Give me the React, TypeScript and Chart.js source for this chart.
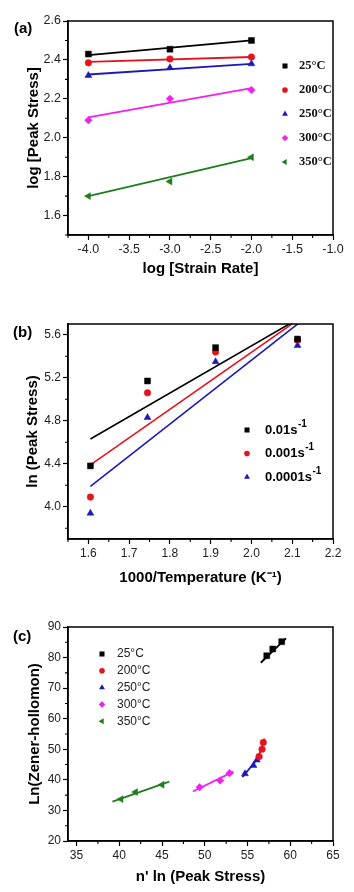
import React, { useEffect, useRef } from 'react';
import { Chart, registerables } from 'chart.js';

Chart.register(...registerables);

const SANS = '"Liberation Sans", Arial, Helvetica, sans-serif';
const SERIF = '"Liberation Serif", "Times New Roman", serif';

const BLACK = '#000000';
const RED = '#e3141e';
const BLUE = '#1a1ab8';
const MAGENTA = '#f020f0';
const GREEN = '#1e7d1e';

// ---------------- Panel (a) ----------------
const tempLabels = ['25°C', '200°C', '250°C', '300°C', '350°C'];
const logStrainRate = [-4, -3, -2];
const fitXA = [-4, -2];
const logPeakA25 = [2.43, 2.455, 2.5];
const logPeakA200 = [2.385, 2.405, 2.415];
const logPeakA250 = [2.32, 2.36, 2.38];
const logPeakA300 = [2.09, 2.2, 2.245];
const logPeakA350 = [1.7, 1.775, 1.9];
const fitA25 = [2.425, 2.5];
const fitA200 = [2.39, 2.415];
const fitA250 = [2.325, 2.38];
const fitA300 = [2.105, 2.255];
const fitA350 = [1.7, 1.895];
const xTicksA = [-4.0, -3.5, -3.0, -2.5, -2.0, -1.5, -1.0];
const yTicksA = [1.6, 1.8, 2.0, 2.2, 2.4, 2.6];

// ---------------- Panel (b) ----------------
const rateLabels = ['0.01s⁻¹', '0.001s⁻¹', '0.0001s⁻¹'];
const invTemp = [1.605, 1.745, 1.912, 2.113];
const fitXB = [1.605, 2.12];
const lnPeakB1 = [4.38, 5.17, 5.48, 5.56];
const lnPeakB2 = [4.09, 5.06, 5.44, 5.55];
const lnPeakB3 = [3.94, 4.83, 5.35, 5.5];
const fitB1 = [4.63, 5.76];
const fitB2 = [4.39, 5.755];
const fitB3 = [4.19, 5.72];
const xTicksB = [1.6, 1.7, 1.8, 1.9, 2.0, 2.1, 2.2];
const yTicksB = [4.0, 4.4, 4.8, 5.2, 5.6];

// ---------------- Panel (c) ----------------
const nLnC25 = [57.25, 57.95, 59.0];
const zC25 = [80.6, 82.8, 85.2];
const fitXC25 = [56.55, 59.5];
const fitYC25 = [78.3, 86.3];
const nLnC200 = [56.35, 56.7, 56.85];
const zC200 = [47.6, 50.0, 52.2];
const fitXC200 = [56.15, 57.0];
const fitYC200 = [46.6, 53.5];
const nLnC250 = [54.7, 55.7, 56.1];
const zC250 = [42.0, 44.7, 46.5];
const fitXC250 = [54.4, 56.3];
const fitYC250 = [40.9, 47.3];
const nLnC300 = [49.4, 51.8, 52.9];
const zC300 = [37.6, 39.8, 42.2];
const fitXC300 = [48.6, 53.35];
const fitYC300 = [36.2, 42.7];
const nLnC350 = [40.2, 41.9, 45.0];
const zC350 = [33.7, 36.0, 38.4];
const fitXC350 = [39.2, 45.85];
const fitYC350 = [32.9, 39.45];
const xTicksC = [35, 40, 45, 50, 55, 60, 65];
const yTicksC = [20, 30, 40, 50, 60, 70, 80, 90];

interface SeriesSpec {
  label: string;
  x: number[];
  y: number[];
  fitX: number[];
  fitY: number[];
  color: string;
  style: string;
  rotation: number;
  radius: number;
}

interface LegendSpec {
  symX: number;
  textX: number;
  y0: number;
  dy: number;
  font: string;
  supFont: string;
  color: string;
}

interface PanelSpec {
  tag: string;
  series: SeriesSpec[];
  xMin: number; xMax: number; yMin: number; yMax: number;
  xTicks: number[]; yTicks: number[]; xDec: number; yDec: number;
  xStep: number; yStep: number;
  xTitle: string; yTitle: string;
  canvasH: number; topPad: number; rightPad: number; yAxisW: number; xAxisH: number;
  xTitlePad: number; yTitlePad: number;
  tickSize: number;
  labelPos: [number, number];
  legend: LegendSpec;
  lineWidth: number;
}

const styleA = [
  { color: BLACK, style: 'rect', rotation: 0, radius: 4.2 },
  { color: RED, style: 'circle', rotation: 0, radius: 3.3 },
  { color: BLUE, style: 'triangle', rotation: 0, radius: 4 },
  { color: MAGENTA, style: 'rectRot', rotation: 0, radius: 3.8 },
  { color: GREEN, style: 'triangle', rotation: -90, radius: 4 },
];

const specA: PanelSpec = {
  tag: '(a)',
  series: [
    { label: tempLabels[0], x: logStrainRate, y: logPeakA25, fitX: fitXA, fitY: fitA25, ...styleA[0] },
    { label: tempLabels[1], x: logStrainRate, y: logPeakA200, fitX: fitXA, fitY: fitA200, ...styleA[1] },
    { label: tempLabels[2], x: logStrainRate, y: logPeakA250, fitX: fitXA, fitY: fitA250, ...styleA[2] },
    { label: tempLabels[3], x: logStrainRate, y: logPeakA300, fitX: fitXA, fitY: fitA300, ...styleA[3] },
    { label: tempLabels[4], x: logStrainRate, y: logPeakA350, fitX: fitXA, fitY: fitA350, ...styleA[4] },
  ],
  xMin: -4.25, xMax: -1.0, yMin: 1.5, yMax: 2.6,
  xTicks: xTicksA, yTicks: yTicksA, xDec: 1, yDec: 1, xStep: 0.5, yStep: 0.2,
  xTitle: 'log [Strain Rate]', yTitle: 'log [Peak Stress]',
  canvasH: 295, topPad: 21, rightPad: 21, yAxisW: 68, xAxisH: 60,
  xTitlePad: 17, yTitlePad: 25, tickSize: 12.5,
  labelPos: [14, 29],
  legend: { symX: 285, textX: 299, y0: 66, dy: 24, font: `bold 12.5px ${SERIF}`, supFont: '', color: '#111' },
  lineWidth: 1.8,
};

const specB: PanelSpec = {
  tag: '(b)',
  series: [
    { label: rateLabels[0], x: invTemp, y: lnPeakB1, fitX: fitXB, fitY: fitB1, ...styleA[0] },
    { label: rateLabels[1], x: invTemp, y: lnPeakB2, fitX: fitXB, fitY: fitB2, ...styleA[1] },
    { label: rateLabels[2], x: invTemp, y: lnPeakB3, fitX: fitXB, fitY: fitB3, ...styleA[2] },
  ],
  xMin: 1.55, xMax: 2.2, yMin: 3.7, yMax: 5.7,
  xTicks: xTicksB, yTicks: yTicksB, xDec: 1, yDec: 1, xStep: 0.1, yStep: 0.4,
  xTitle: '1000/Temperature (K⁻¹)', yTitle: 'ln (Peak Stress)',
  canvasH: 300, topPad: 29, rightPad: 21, yAxisW: 68, xAxisH: 56,
  xTitlePad: 8, yTitlePad: 24, tickSize: 12,
  labelPos: [13, 38],
  legend: { symX: 247, textX: 265, y0: 135, dy: 23.5, font: `bold 13px ${SANS}`, supFont: `bold 10px ${SANS}`, color: '#000' },
  lineWidth: 1.6,
};

const specC: PanelSpec = {
  tag: '(c)',
  series: [
    { label: tempLabels[0], x: nLnC25, y: zC25, fitX: fitXC25, fitY: fitYC25, ...styleA[0] },
    { label: tempLabels[1], x: nLnC200, y: zC200, fitX: fitXC200, fitY: fitYC200, ...styleA[1] },
    { label: tempLabels[2], x: nLnC250, y: zC250, fitX: fitXC250, fitY: fitYC250, ...styleA[2] },
    { label: tempLabels[3], x: nLnC300, y: zC300, fitX: fitXC300, fitY: fitYC300, ...styleA[3] },
    { label: tempLabels[4], x: nLnC350, y: zC350, fitX: fitXC350, fitY: fitYC350, ...styleA[4] },
  ],
  xMin: 34, xMax: 65, yMin: 20, yMax: 90,
  xTicks: xTicksC, yTicks: yTicksC, xDec: 0, yDec: 0, xStep: 5, yStep: 10,
  xTitle: "n' ln (Peak Stress)", yTitle: 'Ln(Zener-hollomon)',
  canvasH: 297, topPad: 32, rightPad: 21, yAxisW: 68, xAxisH: 51,
  xTitlePad: 6, yTitlePad: 26, tickSize: 12,
  labelPos: [13, 42],
  legend: { symX: 102, textX: 117, y0: 59, dy: 16.8, font: `12px ${SANS}`, supFont: '', color: '#222' },
  lineWidth: 1.8,
};

function drawMarker(ctx: CanvasRenderingContext2D, style: string, rotation: number, x: number, y: number, r: number, color: string) {
  ctx.save();
  ctx.fillStyle = color;
  ctx.beginPath();
  if (style === 'rect') {
    const s = r * Math.SQRT1_2;
    ctx.rect(x - s, y - s, 2 * s, 2 * s);
  } else if (style === 'circle') {
    ctx.arc(x, y, r, 0, Math.PI * 2);
  } else if (style === 'rectRot') {
    ctx.moveTo(x, y - r); ctx.lineTo(x + r, y); ctx.lineTo(x, y + r); ctx.lineTo(x - r, y); ctx.closePath();
  } else {
    let a = (rotation * Math.PI) / 180;
    for (let i = 0; i < 3; i++) {
      const px = x + Math.sin(a) * r;
      const py = y - Math.cos(a) * r;
      if (i === 0) ctx.moveTo(px, py); else ctx.lineTo(px, py);
      a += (2 * Math.PI) / 3;
    }
    ctx.closePath();
  }
  ctx.fill();
  ctx.restore();
}

function minorValues(min: number, max: number, step: number): number[] {
  const half = step / 2;
  const out: number[] = [];
  const start = Math.ceil(min / half - 1e-9);
  const end = Math.floor(max / half + 1e-9);
  for (let k = start; k <= end; k++) {
    if (k % 2 !== 0) out.push(k * half);
  }
  return out;
}

function buildConfig(spec: PanelSpec): any {
  const datasets: any[] = [];
  spec.series.forEach((s) => {
    datasets.push({
      label: s.label + ' fit',
      data: s.fitX.map((x, i) => ({ x, y: s.fitY[i] })),
      showLine: true,
      borderColor: s.color,
      backgroundColor: s.color,
      borderWidth: spec.lineWidth,
      pointRadius: 0,
      pointHoverRadius: 0,
      order: 2,
    });
    datasets.push({
      label: s.label,
      data: s.x.map((x, i) => ({ x, y: s.y[i] })),
      showLine: false,
      pointStyle: s.style,
      pointRotation: s.rotation,
      pointRadius: s.radius,
      pointHoverRadius: s.radius,
      backgroundColor: s.color,
      borderColor: s.color,
      pointBorderWidth: 0.5,
      order: 1,
    });
  });

  const axis = (isX: boolean) => ({
    type: 'linear',
    position: isX ? 'bottom' : 'left',
    min: isX ? spec.xMin : spec.yMin,
    max: isX ? spec.xMax : spec.yMax,
    afterBuildTicks: (s: any) => {
      s.ticks = (isX ? spec.xTicks : spec.yTicks).map((v) => ({ value: v }));
    },
    afterFit: (s: any) => {
      if (isX) s.height = spec.xAxisH;
      else s.width = spec.yAxisW;
    },
    border: { display: true, color: '#000', width: 1.5 },
    grid: {
      display: true,
      drawOnChartArea: false,
      drawTicks: true,
      tickLength: 5,
      tickWidth: 1.2,
      tickColor: '#000',
      color: '#000',
    },
    ticks: {
      autoSkip: false,
      maxRotation: 0,
      minRotation: 0,
      padding: 2,
      color: '#222',
      font: { family: SANS, size: spec.tickSize },
      callback: (v: any) => Number(v).toFixed(isX ? spec.xDec : spec.yDec),
    },
    title: {
      display: true,
      text: isX ? spec.xTitle : spec.yTitle,
      color: '#000',
      font: { family: SANS, size: 15, weight: 'bold' },
      padding: isX ? { top: 0, bottom: spec.xTitlePad } : { top: spec.yTitlePad, bottom: 0 },
    },
  });

  const decor = {
    id: 'decor',
    afterDraw(chart: any) {
      const { ctx, chartArea: ca, scales } = chart;
      ctx.save();
      // frame
      ctx.strokeStyle = '#000';
      ctx.lineWidth = 1.5;
      ctx.strokeRect(ca.left, ca.top, ca.right - ca.left, ca.bottom - ca.top);
      // minor ticks
      ctx.lineWidth = 1.1;
      ctx.beginPath();
      minorValues(spec.xMin, spec.xMax, spec.xStep).forEach((v) => {
        const px = scales.x.getPixelForValue(v);
        ctx.moveTo(px, ca.bottom);
        ctx.lineTo(px, ca.bottom + 3);
      });
      minorValues(spec.yMin, spec.yMax, spec.yStep).forEach((v) => {
        const py = scales.y.getPixelForValue(v);
        ctx.moveTo(ca.left, py);
        ctx.lineTo(ca.left - 3, py);
      });
      ctx.stroke();
      // panel tag
      ctx.fillStyle = '#000';
      ctx.font = `bold 15px ${SANS}`;
      ctx.textAlign = 'left';
      ctx.textBaseline = 'middle';
      ctx.fillText(spec.tag, spec.labelPos[0], spec.labelPos[1]);
      // legend
      const lg = spec.legend;
      spec.series.forEach((s, i) => {
        const y = lg.y0 + i * lg.dy;
        drawMarker(ctx, s.style, s.rotation, lg.symX, y, s.radius * 0.85, s.color);
        ctx.fillStyle = lg.color;
        ctx.font = lg.font;
        ctx.textBaseline = 'middle';
        const sup = '⁻¹';
        if (lg.supFont && s.label.endsWith(sup)) {
          const base = s.label.slice(0, -sup.length);
          ctx.fillText(base, lg.textX, y);
          const w = ctx.measureText(base).width;
          ctx.font = lg.supFont;
          ctx.fillText('-1', lg.textX + w + 0.5, y - 6);
        } else {
          ctx.fillText(s.label, lg.textX, y);
        }
      });
      ctx.restore();
    },
  };

  return {
    type: 'scatter',
    data: { datasets },
    options: {
      animation: false,
      responsive: false,
      devicePixelRatio: 1,
      events: [],
      layout: { padding: { top: spec.topPad, right: spec.rightPad, left: 0, bottom: 0 } },
      plugins: {
        legend: { display: false },
        tooltip: { enabled: false },
        title: { display: false },
      },
      scales: { x: axis(true), y: axis(false) },
    },
    plugins: [decor],
  };
}

function Panel({ spec, top }: { spec: PanelSpec; top: number }) {
  const ref = useRef<HTMLCanvasElement>(null);
  useEffect(() => {
    const chart = new Chart(ref.current as HTMLCanvasElement, buildConfig(spec));
    return () => chart.destroy();
  }, [spec]);
  return (
    <canvas
      ref={ref}
      width={354}
      height={spec.canvasH}
      style={{ position: 'absolute', left: 0, top, width: 354, height: spec.canvasH }}
    />
  );
}

export default function App() {
  return (
    <div style={{ position: 'absolute', left: 0, top: 0, width: 354, height: 892, background: '#fff', overflow: 'hidden' }}>
      <Panel spec={specA} top={0} />
      <Panel spec={specB} top={295} />
      <Panel spec={specC} top={595} />
    </div>
  );
}
